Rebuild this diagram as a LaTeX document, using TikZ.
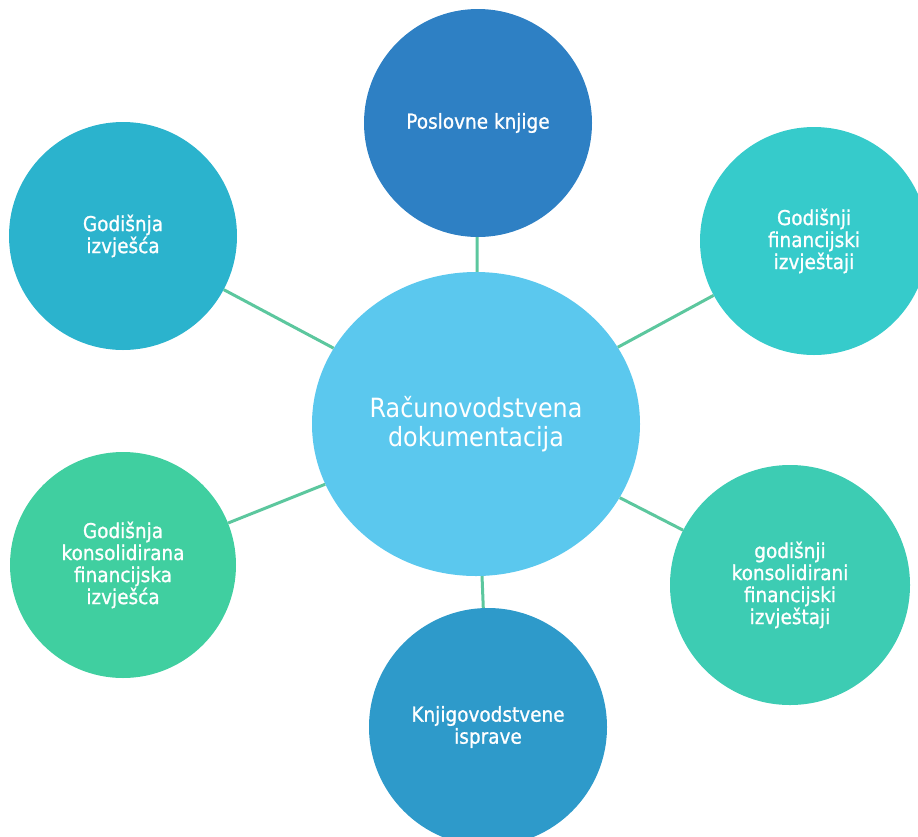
\documentclass[tikz,border=0pt]{standalone}
\usepackage{fontspec}
\setmainfont[FakeStretch=0.9]{DejaVu Sans}
\newfontfamily\leaffont[FakeStretch=0.9,FakeBold=1]{DejaVu Sans}
\usepackage{tikz}
\usetikzlibrary{shapes.geometric}

\definecolor{hubblue}{HTML}{5BC8EE}
\definecolor{knjigeblue}{HTML}{2E80C4}
\definecolor{izvjescacyan}{HTML}{2BB3CD}
\definecolor{fincyan}{HTML}{36CBCB}
\definecolor{konsgreen}{HTML}{40CFA0}
\definecolor{konsteal}{HTML}{3DCCB3}
\definecolor{ispraveblue}{HTML}{2E9ACA}
\definecolor{spokegreen}{HTML}{5CC79E}

\begin{document}
\begin{tikzpicture}[x=1pt,y=-1pt,
		leaf/.style={circle,minimum size=#1,inner sep=0pt,text=white,align=center,font=\leaffont\fontsize{20.5}{22}\selectfont},
		hub/.style={ellipse,minimum width=328,minimum height=304,inner sep=0pt,fill=hubblue,text=white,align=center,font=\fontsize{26.5}{29.5}\selectfont},
		spoke/.style={draw=spokegreen,line width=3pt}]
		\useasboundingbox (0,0) rectangle (918,836);
		% middle and the six around it
		\node[hub] (racun) at (476,424) {Računovodstvena\\dokumentacija};
		\node[leaf=228,fill=knjigeblue] (knjige) at (478,123) {Poslovne knjige};
		\node[leaf=228,fill=izvjescacyan] (izvjesca) at (123,236) {Godišnja\\izvješća};
		\node[leaf=228,fill=fincyan] (fin) at (814,241) {Godišnji\\financijski\\izvještaji};
		\node[leaf=226,fill=konsgreen] (konsizv) at (123,565) {Godišnja\\konsolidirana\\financijska\\izvješća};
		\node[leaf=240,fill=konsteal] (konsizvj) at (790,585) {godišnji\\konsolidirani\\financijski\\izvještaji};
		\node[leaf=238,fill=ispraveblue] (isprave) at (488,727) {Knjigovodstvene\\isprave};
		\foreach \n in {knjige,izvjesca,fin,konsizv,konsizvj,isprave}
			\draw[spoke] (racun) -- (\n);
	\end{tikzpicture}
\end{document}
